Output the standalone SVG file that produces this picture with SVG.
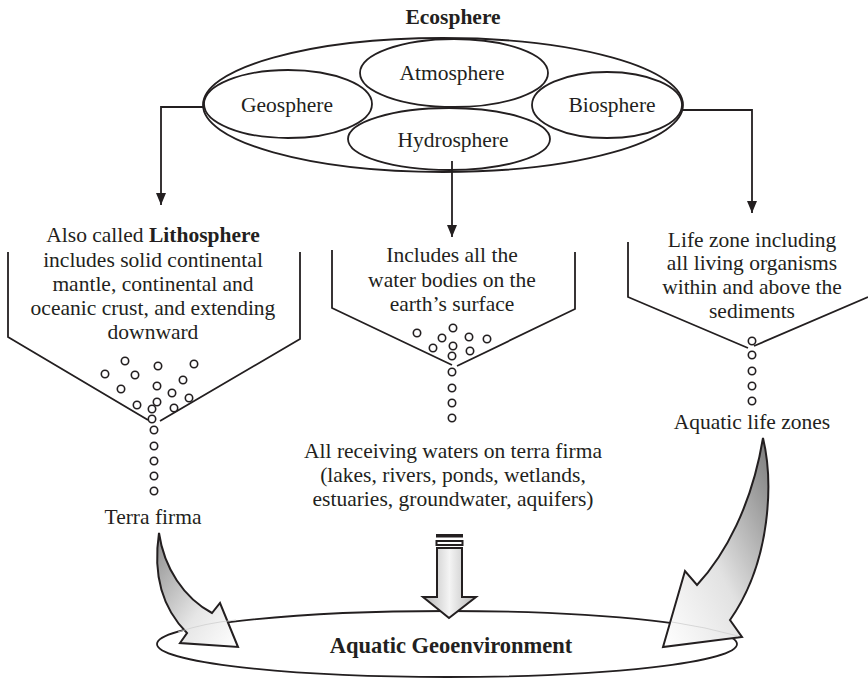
<svg xmlns="http://www.w3.org/2000/svg" width="868" height="680" viewBox="0 0 868 680">
  <defs>
    <style>
      .t { font-family: "Liberation Serif", "Times New Roman", serif; font-size: 21.5px; fill: #231f20; text-anchor: middle; }
      .b { font-weight: bold; }
      .ell { fill: none; stroke: #231f20; stroke-width: 1.8; }
      .ln { fill: none; stroke: #231f20; stroke-width: 1.8; }
      .dot { fill: #fff; stroke: #231f20; stroke-width: 1.6; }
      .big { stroke: #231f20; stroke-width: 2; stroke-linejoin: miter; }
    </style>
    <marker id="tri" viewBox="0 0 12 10" refX="12" refY="5" markerWidth="12" markerHeight="10" markerUnits="userSpaceOnUse" orient="auto">
      <path d="M0,0 L12,5 L0,10 Z" fill="#231f20"/>
    </marker>
    <linearGradient id="gLeft" x1="0" y1="0" x2="1" y2="1">
      <stop offset="0" stop-color="#8c8c8c"/>
      <stop offset="0.6" stop-color="#e6e6e6"/>
      <stop offset="1" stop-color="#ffffff"/>
    </linearGradient>
    <linearGradient id="gRight" x1="1" y1="0" x2="0" y2="1">
      <stop offset="0" stop-color="#7a7a7a"/>
      <stop offset="0.55" stop-color="#e2e2e2"/>
      <stop offset="1" stop-color="#ffffff"/>
    </linearGradient>
    <linearGradient id="gDown" x1="0" y1="0" x2="1" y2="0">
      <stop offset="0" stop-color="#b5b5b5"/>
      <stop offset="0.5" stop-color="#f4f4f4"/>
      <stop offset="1" stop-color="#b5b5b5"/>
    </linearGradient>
  </defs>

  <rect width="868" height="680" fill="#fff"/>

  <!-- Ecosphere cluster -->
  <g id="ecosphere">
    <text class="t b" x="453" y="24">Ecosphere</text>
    <ellipse class="ell" cx="443" cy="105" rx="240" ry="67"/>
  </g>
  <g id="atmosphere">
    <ellipse class="ell" cx="454" cy="73" rx="94" ry="34" fill="#fff"/>
    <text class="t" x="452" y="80">Atmosphere</text>
  </g>
  <g id="geosphere">
    <ellipse class="ell" cx="288" cy="104" rx="84" ry="34"/>
    <text class="t" x="287" y="112">Geosphere</text>
  </g>
  <g id="hydrosphere">
    <ellipse class="ell" cx="449" cy="139" rx="101" ry="31"/>
    <text class="t" x="453" y="147">Hydrosphere</text>
  </g>
  <g id="biosphere">
    <ellipse class="ell" cx="607" cy="105" rx="75" ry="33"/>
    <text class="t" x="612" y="112">Biosphere</text>
  </g>

  <!-- Connectors from the spheres -->
  <g id="connectors">
    <path class="ln" d="M204,107 H161 V205" marker-end="url(#tri)"/>
    <path class="ln" d="M452,161 V237" marker-end="url(#tri)"/>
    <path class="ln" d="M682,110 H752 V213" marker-end="url(#tri)"/>
  </g>

  <!-- Lithosphere funnel -->
  <g id="lithosphere">
    <path class="ln" d="M8,252 V337 L148,420 M160,421 L300,339 V252"/>
    <text class="t" x="153" y="242">Also called <tspan class="b">Lithosphere</tspan></text>
    <text class="t" x="153" y="267">includes solid continental</text>
    <text class="t" x="153" y="291">mantle, continental and</text>
    <text class="t" x="153" y="315">oceanic crust, and extending</text>
    <text class="t" x="153" y="339">downward</text>
    <g>
      <circle class="dot" cx="125" cy="361" r="3.7"/>
      <circle class="dot" cx="105" cy="374" r="3.7"/>
      <circle class="dot" cx="135" cy="375" r="3.7"/>
      <circle class="dot" cx="158" cy="366" r="3.7"/>
      <circle class="dot" cx="194" cy="364" r="3.7"/>
      <circle class="dot" cx="121" cy="389" r="3.7"/>
      <circle class="dot" cx="157" cy="386" r="3.7"/>
      <circle class="dot" cx="183" cy="380" r="3.7"/>
      <circle class="dot" cx="172" cy="393" r="3.7"/>
      <circle class="dot" cx="189" cy="398" r="3.7"/>
      <circle class="dot" cx="137" cy="405" r="3.7"/>
      <circle class="dot" cx="157" cy="402" r="3.7"/>
      <circle class="dot" cx="152" cy="409" r="3.7"/>
      <circle class="dot" cx="174" cy="408" r="3.7"/>
      <circle class="dot" cx="152" cy="419" r="3.7"/>
      <circle class="dot" cx="154" cy="430" r="3.7"/>
      <circle class="dot" cx="154" cy="446" r="3.7"/>
      <circle class="dot" cx="154" cy="461" r="3.7"/>
      <circle class="dot" cx="154" cy="476" r="3.7"/>
      <circle class="dot" cx="154" cy="491" r="3.7"/>
    </g>
    <text class="t" x="153" y="524">Terra firma</text>
  </g>

  <!-- Hydrosphere funnel -->
  <g id="waters">
    <path class="ln" d="M332,250 V308 L452,365 M457,366 L575,309 V252"/>
    <text class="t" x="452" y="262">Includes all the</text>
    <text class="t" x="452" y="287">water bodies on the</text>
    <text class="t" x="452" y="311">earth’s surface</text>
    <g>
      <circle class="dot" cx="417" cy="333" r="3.7"/>
      <circle class="dot" cx="453" cy="328" r="3.7"/>
      <circle class="dot" cx="442" cy="338" r="3.7"/>
      <circle class="dot" cx="469" cy="337" r="3.7"/>
      <circle class="dot" cx="487" cy="339" r="3.7"/>
      <circle class="dot" cx="433" cy="348" r="3.7"/>
      <circle class="dot" cx="453" cy="346" r="3.7"/>
      <circle class="dot" cx="470" cy="351" r="3.7"/>
      <circle class="dot" cx="452" cy="356" r="3.7"/>
      <circle class="dot" cx="452" cy="372" r="3.7"/>
      <circle class="dot" cx="452" cy="388" r="3.7"/>
      <circle class="dot" cx="452" cy="403" r="3.7"/>
      <circle class="dot" cx="452" cy="418" r="3.7"/>
    </g>
    <text class="t" x="453" y="458">All receiving waters on terra firma</text>
    <text class="t" x="453" y="482">(lakes, rivers, ponds, wetlands,</text>
    <text class="t" x="453" y="506">estuaries, groundwater, aquifers)</text>
  </g>

  <!-- Biosphere funnel -->
  <g id="lifezone">
    <path class="ln" d="M628,242 V297 L748,348 M754,346 L868,297"/>
    <text class="t" x="752" y="247">Life zone including</text>
    <text class="t" x="752" y="270">all living organisms</text>
    <text class="t" x="752" y="294">within and above the</text>
    <text class="t" x="752" y="318">sediments</text>
    <g>
      <circle class="dot" cx="752" cy="341" r="3.7"/>
      <circle class="dot" cx="752" cy="355" r="3.7"/>
      <circle class="dot" cx="752" cy="371" r="3.7"/>
      <circle class="dot" cx="752" cy="386" r="3.7"/>
      <circle class="dot" cx="752" cy="401" r="3.7"/>
    </g>
    <text class="t" x="752" y="429">Aquatic life zones</text>
  </g>

  <!-- Aquatic Geoenvironment -->
  <g id="geoenvironment">
    <ellipse class="ell" cx="447" cy="644" rx="290" ry="33"/>
    <text class="t b" x="451" y="653" style="font-size:22.5px">Aquatic Geoenvironment</text>
  </g>

  <!-- Block arrows into the geoenvironment -->
  <g id="flow-arrows">
    <path class="big" fill="url(#gLeft)" d="M159,533 C164,568 184,598 212,613 L220,603 L238,647 L180,643 L187,633 C166,612 152,580 159,533 Z"/>
    <path d="M178,632 Q205,623 236,620" fill="none" stroke="#cfcfcf" stroke-width="0.8"/>
    <path class="big" fill="url(#gRight)" d="M763,438 C773,480 772,560 730,620 L742,637 L663,647 L685,571 L697,585 C725,555 752,505 763,438 Z"/>
    <path d="M672,622 Q705,627 738,636" fill="none" stroke="#cfcfcf" stroke-width="0.8"/>
    <rect x="436" y="534" width="27" height="3.5" fill="#231f20"/>
    <rect class="big" x="436.5" y="541" width="26" height="4" fill="#fff" stroke-width="1.6"/>
    <path class="big" fill="url(#gDown)" stroke-width="1.6" d="M437,548 H462 V597 H476 L449,618 L423,597 H437 Z"/>
  </g>
</svg>
